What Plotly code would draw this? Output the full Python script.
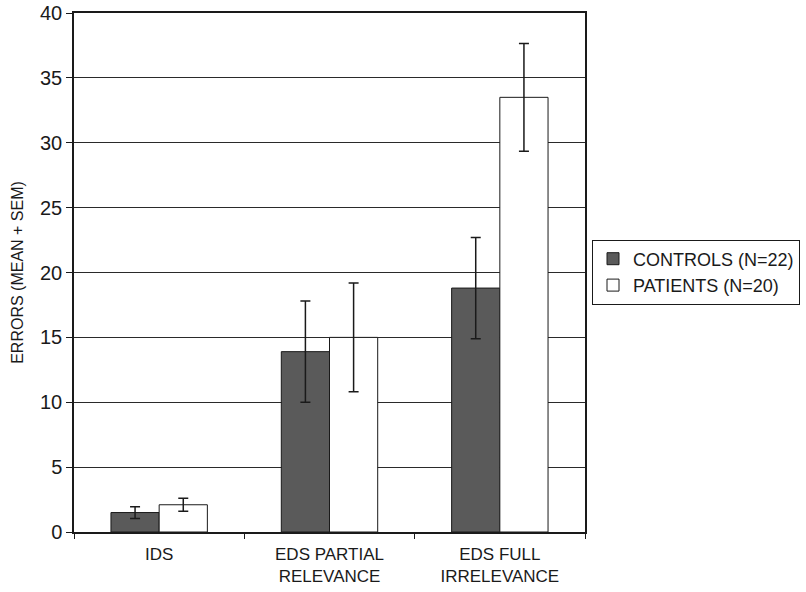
import plotly.graph_objects as go

# Task-switching errors per stage, two groups
categories = ["IDS", "EDS PARTIAL<br>RELEVANCE", "EDS FULL<br>IRRELEVANCE"]
controls_mean = [1.5, 13.9, 18.8]
controls_sem = [0.45, 3.9, 3.9]
patients_mean = [2.1, 15.0, 33.5]
patients_sem = [0.5, 4.2, 4.15]
y_ticks = [0, 5, 10, 15, 20, 25, 30, 35, 40]

FONT = "Liberation Sans, Arial, sans-serif"
INK = "#1a1a1a"

fig = go.Figure()
fig.add_trace(go.Bar(
    name="CONTROLS (N=22)", x=categories, y=controls_mean,
    marker=dict(color="#5a5a5a", line=dict(color=INK, width=1)),
    error_y=dict(type="data", array=controls_sem, color=INK, thickness=1.5, width=5),
))
fig.add_trace(go.Bar(
    name="PATIENTS (N=20)", x=categories, y=patients_mean,
    marker=dict(color="white", line=dict(color=INK, width=1)),
    error_y=dict(type="data", array=patients_sem, color=INK, thickness=1.5, width=5),
))

PLOT_L, PLOT_R, PLOT_T, PLOT_B = 74, 585, 13, 532

fig.update_layout(
    width=806, height=592,
    margin=dict(l=PLOT_L, r=806 - PLOT_R, t=PLOT_T, b=592 - PLOT_B, autoexpand=False),
    paper_bgcolor="white", plot_bgcolor="white",
    barmode="group", bargap=0.434, bargroupgap=0,
    font=dict(family=FONT, color=INK, size=17),
    showlegend=True,
    legend=dict(
        x=(592 - PLOT_L) / (PLOT_R - PLOT_L),
        y=(PLOT_B - 272) / (PLOT_B - PLOT_T), yanchor="middle",
        bordercolor=INK, borderwidth=1, bgcolor="white",
        font=dict(size=18, family=FONT, color=INK),
        itemwidth=30, tracegroupgap=0,
    ),
)

fig.update_xaxes(
    type="category", tickson="boundaries", ticks="outside", ticklen=5,
    tickcolor=INK, tickwidth=1,
    showline=True, linecolor=INK, linewidth=1.5, mirror=True,
    showgrid=False,
    ticklabelstandoff=6,
    tickfont=dict(size=17, family=FONT, color=INK),
)
fig.update_yaxes(
    range=[0, 40], tickvals=y_ticks, ticks="outside", ticklen=6,
    tickcolor=INK, tickwidth=1,
    showline=True, linecolor=INK, linewidth=1.5, mirror=True,
    showgrid=True, gridcolor="#2a2a2a", gridwidth=1.2,
    zeroline=False,
    tickfont=dict(size=20, family=FONT, color=INK),
    title=dict(text="ERRORS (MEAN + SEM)", font=dict(size=16, family=FONT, color=INK), standoff=12),
)

fig.write_html("out.html")
